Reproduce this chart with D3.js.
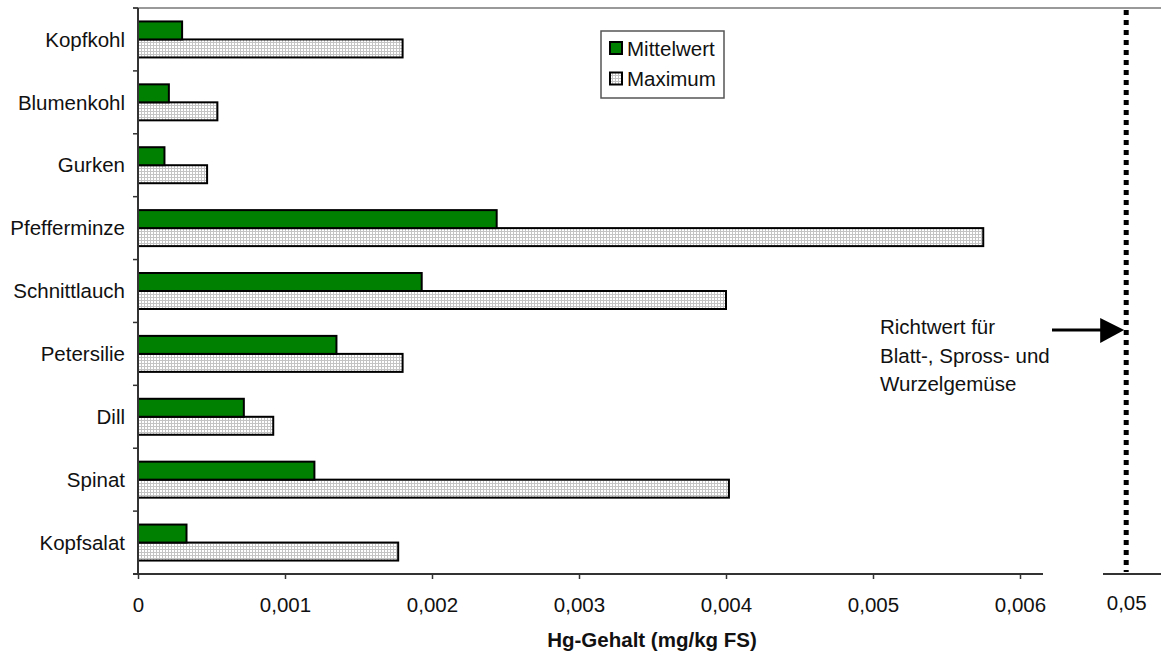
<!DOCTYPE html>
<html><head><meta charset="utf-8">
<script src="https://cdn.jsdelivr.net/npm/d3@7"></script>
<style>body{margin:0;background:#fff;} text{font-family:"Liberation Sans",Arial,sans-serif;}</style>
</head><body>
<svg id="chart" width="1161" height="655"></svg>
<script>
const categories = ["Kopfkohl","Blumenkohl","Gurken","Pfefferminze","Schnittlauch","Petersilie","Dill","Spinat","Kopfsalat"];
const mittelwert = [0.0003,0.00021,0.00018,0.00244,0.00193,0.00135,0.00072,0.0012,0.00033];
const maximum = [0.0018,0.00054,0.00047,0.00575,0.004,0.0018,0.00092,0.00402,0.00177];
const seriesNames = ["Mittelwert","Maximum"];
const xTicks = [0,0.001,0.002,0.003,0.004,0.005,0.006];
const richtwert = 0.05;
const richtwertLabel = ["Richtwert für","Blatt-, Spross- und","Wurzelgemüse"];
const axisTitle = "Hg-Gehalt (mg/kg FS)";

(function(){
const FS = 20.5;
const svg = d3.select("#chart");
const loc = d3.formatLocale({decimal:",",thousands:".",grouping:[3],currency:["","€"]});
const fmt = d => d === 0 ? "0" : loc.format(".3~f")(d);

const plotTop = 8, plotBottom = 574, plotLeft = 138;
const x = d3.scaleLinear().domain([0,0.006]).range([plotLeft,1020]);
const xb = d3.scaleLinear().domain([0.0496,0.0506]).range([1103,1161]);
const y = d3.scaleBand().domain(categories).range([plotTop,plotBottom]);
const barH = 18;

const defs = svg.append("defs");
const pat = defs.append("pattern").attr("id","dots").attr("width",3).attr("height",3).attr("patternUnits","userSpaceOnUse");
pat.append("rect").attr("width",3).attr("height",3).attr("fill","#fff");
pat.append("rect").attr("width",3).attr("height",1).attr("fill","#c4c4c4");
pat.append("rect").attr("width",1).attr("height",3).attr("fill","#c4c4c4");

svg.append("line").attr("x1",133).attr("x2",1161).attr("y1",plotTop).attr("y2",plotTop)
  .attr("stroke","#999").attr("stroke-width",2);

const g = svg.append("g");
g.selectAll("rect.max").data(categories).join("rect").attr("class","max")
  .attr("x",x(0)).attr("y",c=>y(c)+y.bandwidth()/2).attr("height",barH)
  .attr("width",(c,i)=>x(maximum[i])-x(0))
  .attr("fill","url(#dots)").attr("stroke","#000").attr("stroke-width",2);
g.selectAll("rect.mw").data(categories).join("rect").attr("class","mw")
  .attr("x",x(0)).attr("y",c=>y(c)+y.bandwidth()/2-barH).attr("height",barH)
  .attr("width",(c,i)=>x(mittelwert[i])-x(0))
  .attr("fill","#008000").attr("stroke","#000").attr("stroke-width",2);

svg.append("line").attr("x1",plotLeft).attr("x2",plotLeft).attr("y1",plotTop).attr("y2",plotBottom).attr("stroke","#333").attr("stroke-width",2);
const bounds = categories.map(c=>y(c)).concat([plotBottom]);
bounds.forEach(b=>{
  svg.append("line").attr("x1",133).attr("x2",plotLeft).attr("y1",b).attr("y2",b).attr("stroke","#333").attr("stroke-width",1.5);
});
categories.forEach(c=>{
  svg.append("text").attr("x",125).attr("y",y(c)+y.bandwidth()/2).attr("dy","0.35em")
    .attr("text-anchor","end").attr("font-size",FS).attr("fill","#111").text(c);
});

const xa = svg.append("g").attr("transform",`translate(0,${plotBottom})`)
  .call(d3.axisBottom(x).tickValues(xTicks).tickFormat(fmt).tickSize(5).tickPadding(18).tickSizeOuter(0));
xa.select(".domain").attr("stroke","#333").attr("stroke-width",2).attr("d",`M133,0H1043`);
xa.selectAll(".tick line").attr("stroke","#333").attr("stroke-width",1.5);
xa.selectAll(".tick text").attr("font-size",FS).attr("fill","#111").attr("font-family","Liberation Sans, Arial, sans-serif");

const xba = svg.append("g").attr("transform",`translate(0,${plotBottom})`)
  .call(d3.axisBottom(xb).tickValues([richtwert]).tickFormat(d=>loc.format(".2f")(d)).tickSize(0).tickPadding(21).tickSizeOuter(0));
xba.select(".domain").attr("stroke","#333").attr("stroke-width",2).attr("d","M1103,0H1161");
xba.selectAll(".tick text").attr("font-size",FS).attr("fill","#111").attr("font-family","Liberation Sans, Arial, sans-serif");

svg.append("text").attr("x",652).attr("y",647).attr("text-anchor","middle").attr("font-size",FS)
  .attr("font-weight","bold").attr("fill","#111").text(axisTitle);

svg.append("line").attr("x1",xb(richtwert)).attr("x2",xb(richtwert)).attr("y1",10).attr("y2",plotBottom-2)
  .attr("stroke","#000").attr("stroke-width",5).attr("stroke-dasharray","5,5");

const ay = 330, tip = xb(richtwert)-2;
svg.append("line").attr("x1",1052).attr("x2",tip-20).attr("y1",ay).attr("y2",ay).attr("stroke","#000").attr("stroke-width",3);
svg.append("path").attr("d",`M${tip},${ay}L${tip-24},${ay-12}L${tip-24},${ay+13}Z`).attr("fill","#000");

richtwertLabel.forEach((t,i)=>{
  svg.append("text").attr("x",880).attr("y",327+i*28.5).attr("dy","0.35em").attr("font-size",FS).attr("fill","#111").text(t);
});

const lg = svg.append("g");
lg.append("rect").attr("x",601).attr("y",31).attr("width",123).attr("height",67).attr("fill","#fff").attr("stroke","#555").attr("stroke-width",1.5);
const lfills = ["#008000","url(#dots)"];
seriesNames.forEach((s,i)=>{
  const yy = 42 + i*30.5;
  lg.append("rect").attr("x",610).attr("y",yy).attr("width",12).attr("height",12).attr("fill",lfills[i]).attr("stroke","#000").attr("stroke-width",2);
  lg.append("text").attr("x",627).attr("y",yy+6.5).attr("dy","0.35em").attr("font-size",FS).attr("fill","#111").text(s);
});
})();
</script>
</body></html>
